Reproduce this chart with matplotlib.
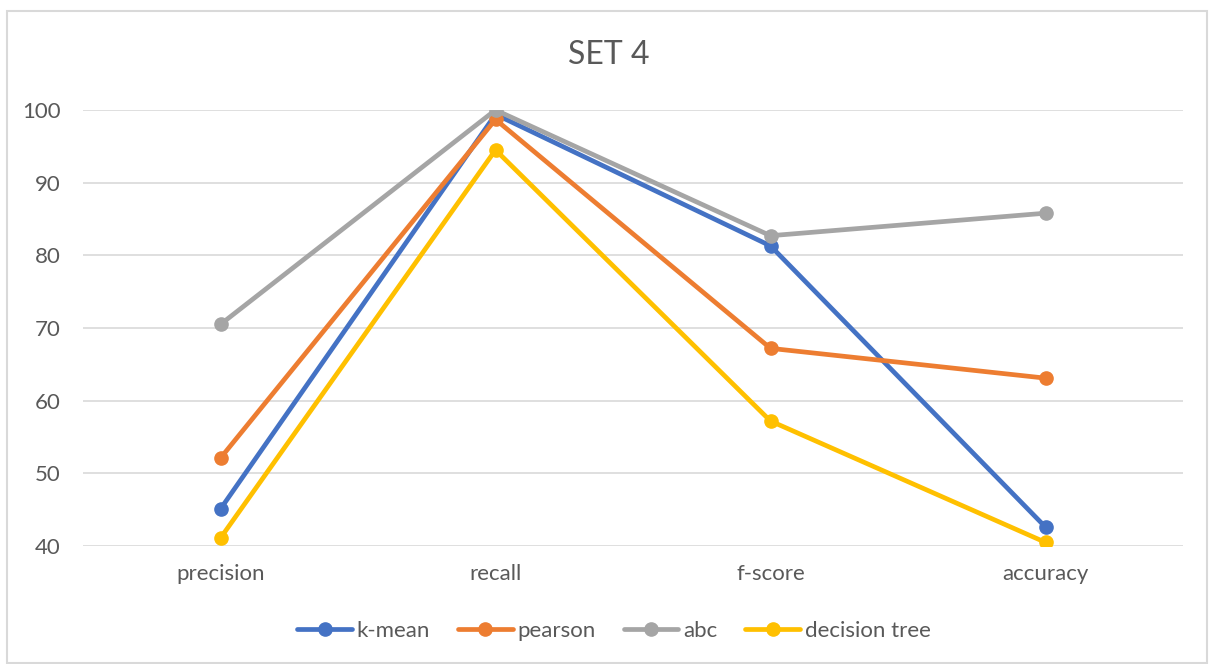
import matplotlib
matplotlib.use("Agg")
import matplotlib.pyplot as plt
from matplotlib.patches import Rectangle

plt.rcParams['font.family'] = ['Lato', 'DejaVu Sans']

categories = ["precision", "recall", "f-score", "accuracy"]
series_names = ["k-mean", "pearson", "abc", "decision tree"]
k_mean = [45.1, 99.4, 81.3, 42.6]
pearson = [52.1, 98.7, 67.2, 63.1]
abc = [70.5, 100.0, 82.7, 85.8]
decision_tree = [41.1, 94.5, 57.2, 40.5]
yticks = [40, 50, 60, 70, 80, 90, 100]
colors = ["#4472C4", "#ED7D31", "#A5A5A5", "#FFC000"]

fig = plt.figure(figsize=(12.09, 6.64), dpi=100)
fig.patches.append(Rectangle((7/1209, 1-663/664), 1200/1209, (663-11)/664,
                             transform=fig.transFigure, fill=False,
                             edgecolor="#D9D9D9", linewidth=1.5))
ax = fig.add_axes([83/1209, 1-546/664, 1100/1209, 436/664])

x = list(range(len(categories)))
for vals, name, c in zip([k_mean, pearson, abc, decision_tree], series_names, colors):
    ax.plot(x, vals, color=c, linewidth=3.4, marker="o", markersize=9.5,
            label=name, solid_capstyle="round", zorder=3)

ax.set_xlim(-0.5, len(categories) - 0.5)
ax.set_ylim(40, 100)
ax.set_yticks(yticks)
ax.set_xticks(x)
ax.set_xticklabels(categories)
ax.grid(axis="y", color="#D9D9D9", linewidth=1.2)
ax.set_axisbelow(True)
for s in ax.spines.values():
    s.set_visible(False)
ax.tick_params(axis="both", length=0, labelsize=16, labelcolor="#595959")
ax.tick_params(axis="y", pad=16)
ax.tick_params(axis="x", pad=13)

fig.text(609/1209, 1-55/664, "SET 4", ha="center", va="center",
         fontsize=23, color="#595959")

leg = fig.legend(loc="center", bbox_to_anchor=(614/1209, 1-631/664), ncol=4,
                 frameon=False, fontsize=16, handlelength=2.45, columnspacing=1.26,
                 handletextpad=0.22)
for t in leg.get_texts():
    t.set_color("#595959")

fig.savefig("out.png", dpi=100)
